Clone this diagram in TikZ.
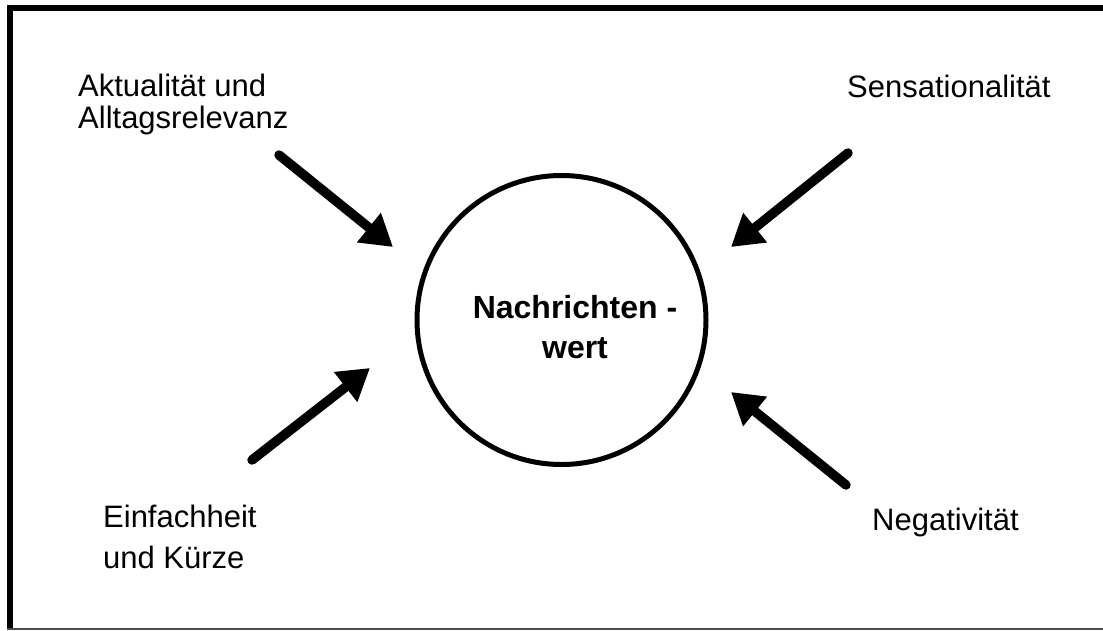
\documentclass[tikz,border=0pt]{standalone}
\usepackage{fontspec}
\setmainfont{Liberation Sans}
\usepackage{tikz}
\usetikzlibrary{arrows.meta}
\newcommand*{\picW}{1103}
\newcommand*{\picH}{630}

\begin{document}
\begin{tikzpicture}[x=1pt,y=-1pt,
    factor/.style={inner sep=0pt,anchor=base west,align=left,font=\fontsize{31}{32}\selectfont},
    hub/.style={circle,draw,line width=5pt,minimum size=289pt,inner sep=0pt},
    hubtext/.style={inner sep=0pt,align=center,font=\bfseries\fontsize{32}{40}\selectfont},
    push/.style={line width=9.5pt,line cap=round,-{Triangle[length=31pt,width=36pt]}}]
    \useasboundingbox (0,0) rectangle (\picW,\picH);
    \draw [line width=6pt] (10,\picH) -- (10,7.5) -- (\picW,7.5);
    \draw [line width=1.5pt,gray!60!black] (7,629.2) -- (\picW,629.2);

    \node [hub] (wert) at (561.5,320) {};
    \node [hubtext] (werttext) at (575,327) {Nachrichten -\\wert};

    \node [factor] (aktualitaet) at (78,128) {Aktualität und\\Alltagsrelevanz};
    \node [factor] (sensation) at (847,97) {Sensationalität};
    \node [factor,font=\fontsize{31}{41}\selectfont] (einfachheit) at (103,568) {Einfachheit\\und Kürze};
    \node [factor] (negativ) at (872,530) {Negativität};

    \coordinate (aktS) at (279,155);
    \coordinate (aktT) at (393,247);
    \coordinate (senS) at (848,153);
    \coordinate (senT) at (731,247);
    \coordinate (einS) at (252,460);
    \coordinate (einT) at (370,368);
    \coordinate (negS) at (846,485);
    \coordinate (negT) at (731,392);
    \foreach \src/\dst in {aktS/aktT,senS/senT,einS/einT,negS/negT} {
      \draw [push] (\src) -- (\dst);
    }
  \end{tikzpicture}
\end{document}
